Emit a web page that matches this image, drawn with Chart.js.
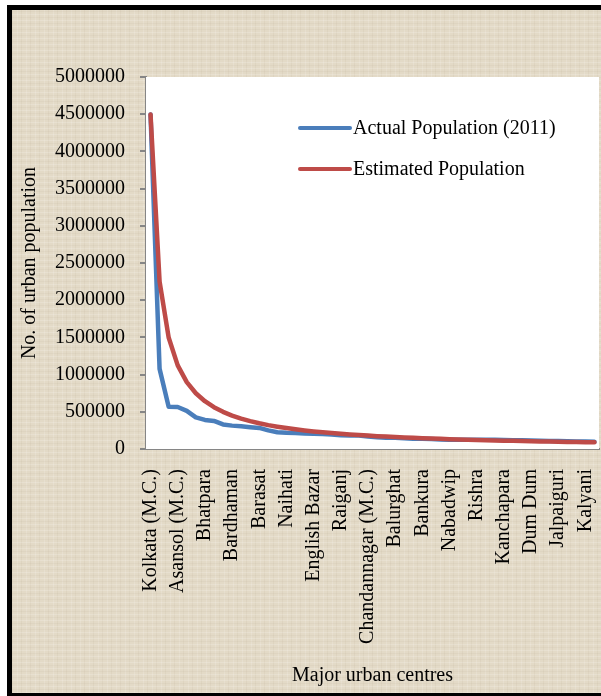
<!DOCTYPE html>
<html>
<head>
<meta charset="utf-8">
<script src="https://cdn.jsdelivr.net/npm/chart.js@4/dist/chart.umd.min.js"></script>
<style>
    html, body { margin: 0; padding: 0; background: #fff; }
    #wrap { position: relative; width: 601px; height: 696px; overflow: hidden; }
    #frame {
        position: absolute; left: 7px; top: 5px; width: 620px; height: 683px;
        border-left: 5px solid #000; border-top: 5px solid #000; border-bottom: 4px solid #000;
        background-color: #e3dac7;
        background-image:
            repeating-linear-gradient(0deg, rgba(255,255,255,0.16) 0 1px, transparent 1px 3px, rgba(160,140,110,0.07) 3px 4px, transparent 4px 6px),
            repeating-linear-gradient(90deg, rgba(150,130,100,0.07) 0 1px, transparent 1px 5px, rgba(255,255,255,0.14) 5px 6px, transparent 6px 9px);
    }
    #chartBox { position: absolute; left: 0; top: 0; width: 601px; height: 696px; }
</style>
</head>
<body>
<div id="wrap">
    <div id="frame"></div>
    <div id="chartBox"><canvas id="popChart" width="601" height="696"></canvas></div>
</div>
<script>
// Major urban centres, ranked by population
const cities = [
    'Kolkata (M.C.)', 'Howrah (M.C.)', 'Durgapur (M.C.)', 'Asansol (M.C.)', 'Siliguri (M.C.)',
    'Rajpur Sonarpur', 'Bhatpara', 'Panihati', 'Kamarhati', 'Bardhaman',
    'Kulti', 'Bally', 'Barasat', 'South Dum Dum', 'Baranagar',
    'Naihati', 'Bidhannagar', 'Kharagpur', 'English Bazar', 'Haldia',
    'Madhyamgram', 'Raiganj', 'Serampore', 'Hugli-Chinsurah', 'Chandannagar (M.C.)',
    'Uttarpara Kotrung', 'Barrackpur', 'Balurghat', 'Krishnanagar', 'Santipur',
    'Bankura', 'Habra', 'Basirhat', 'Nabadwip', 'Halisahar',
    'Bongaon', 'Rishra', 'Titagarh', 'Khardaha', 'Kanchapara',
    'Darjeeling', 'Bansberia', 'Dum Dum', 'Champdani', 'Bhadreswar',
    'Jalpaiguri', 'Purulia', 'Ashokenagar', 'Kalyani', 'Jangipur'
];

const actualPop = [
    4496694, 1077075, 566517, 564491, 513264,
    424368, 390467, 377347, 330211, 314265,
    305000, 293373, 283443, 250000, 225000,
    217900, 215514, 207604, 205521, 200827,
    196127, 183612, 181842, 179931, 166867,
    159147, 152783, 151416, 145926, 138235,
    137386, 134000, 129000, 125543, 125000,
    124800, 124577, 124000, 123000, 122000,
    119000, 117000, 114786, 111000, 109000,
    107341, 104000, 102000, 100575, 96000
];

const estimatedPop = [
    4496694, 2248347, 1498898, 1124174, 899339,
    749449, 642385, 562087, 499633, 449669,
    408790, 374725, 345900, 321192, 299780,
    281043, 264511, 249816, 236668, 224835,
    214128, 204395, 195508, 187362, 179868,
    172950, 166544, 160596, 155058, 149890,
    145055, 140522, 136264, 132256, 128477,
    124908, 121532, 118334, 115300, 112417,
    109676, 107064, 104574, 102198, 99927,
    97754, 95674, 93681, 91769, 89934
];

const seriesNames = ['Actual Population (2011)', 'Estimated Population'];
const seriesColors = ['#4a7ebb', '#be4b48'];
const yMax = 5000000;
const yStep = 500000;
const labelEvery = 3;

const serif = "'Liberation Serif', 'Times New Roman', serif";
const fontSize = 20;

// white plot area + legend drawn inside it
const plotArea = {
    id: 'plotArea',
    beforeDatasetsDraw(chart) {
        const a = chart.chartArea;
        const ctx = chart.ctx;
        ctx.save();
        ctx.fillStyle = '#ffffff';
        ctx.fillRect(a.left, a.top, a.right - a.left, a.bottom - a.top);
        ctx.restore();
    },
    afterDatasetsDraw(chart) {
        const a = chart.chartArea;
        const ctx = chart.ctx;
        ctx.save();
        ctx.font = fontSize + 'px ' + serif;
        ctx.textBaseline = 'middle';
        ctx.fillStyle = '#000';
        chart.data.datasets.forEach((ds, i) => {
            const y = a.top + 51 + i * 41;
            const x0 = a.left + 154;
            ctx.strokeStyle = ds.borderColor;
            ctx.lineWidth = 4;
            ctx.lineCap = 'round';
            ctx.beginPath();
            ctx.moveTo(x0, y);
            ctx.lineTo(x0 + 50, y);
            ctx.stroke();
            ctx.fillText(ds.label, x0 + 53, y + 1);
        });
        ctx.restore();
    }
};

const ctx = document.getElementById('popChart').getContext('2d');
new Chart(ctx, {
    type: 'line',
    data: {
        labels: cities,
        datasets: [
            {
                label: seriesNames[0],
                data: actualPop,
                borderColor: seriesColors[0],
                borderWidth: 4.5,
                pointRadius: 0,
                tension: 0,
                borderJoinStyle: 'round',
                borderCapStyle: 'round',
                order: 1
            },
            {
                label: seriesNames[1],
                data: estimatedPop,
                borderColor: seriesColors[1],
                borderWidth: 4.5,
                pointRadius: 0,
                tension: 0,
                borderJoinStyle: 'round',
                borderCapStyle: 'round',
                order: 0
            }
        ]
    },
    options: {
        responsive: false,
        animation: false,
        devicePixelRatio: 1,
        layout: { padding: { left: 12, top: 77, right: 2, bottom: 4 } },
        plugins: {
            legend: { display: false },
            tooltip: { enabled: false }
        },
        scales: {
            x: {
                type: 'category',
                offset: true,
                grid: { display: false, drawTicks: false },
                border: { display: true, color: '#868686', width: 2 },
                ticks: {
                    autoSkip: false,
                    minRotation: 90,
                    maxRotation: 90,
                    padding: 20,
                    color: '#000',
                    font: { family: serif, size: fontSize },
                    callback: function(value, index) {
                        return index % labelEvery === 0 ? this.getLabelForValue(value) : null;
                    }
                },
                title: {
                    display: true,
                    text: 'Major urban centres',
                    color: '#000',
                    font: { family: serif, size: fontSize },
                    padding: { top: 0, bottom: 4 }
                },
                afterFit: function(scale) {
                    scale.height = 243;
                    scale.paddingLeft = 0;
                    scale.paddingRight = 0;
                }
            },
            y: {
                min: 0,
                max: yMax,
                grid: { drawOnChartArea: false, drawTicks: true, tickLength: 6, color: '#868686', lineWidth: 2 },
                border: { display: true, color: '#868686', width: 2 },
                ticks: {
                    stepSize: yStep,
                    padding: 15,
                    color: '#000',
                    font: { family: serif, size: fontSize },
                    callback: function(value) { return String(value); }
                },
                title: {
                    display: true,
                    text: 'No. of urban population',
                    color: '#000',
                    font: { family: serif, size: fontSize },
                    padding: { top: 6, bottom: 0 }
                },
                afterFit: function(scale) {
                    scale.width = 134;
                    scale.paddingTop = 0;
                    scale.paddingBottom = 0;
                }
            }
        }
    },
    plugins: [plotArea]
});
</script>
</body>
</html>
